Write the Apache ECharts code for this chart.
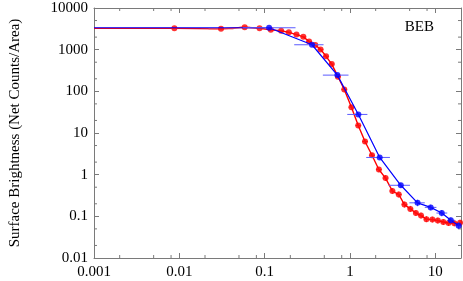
<!DOCTYPE html>
<html>
<head>
<meta charset="utf-8">
<script src="https://cdn.jsdelivr.net/npm/echarts@6/dist/echarts.min.js"></script>
<style>
html,body{margin:0;padding:0;background:#fff;}
#chart{width:463px;height:281px;}
</style>
</head>
<body>
<div id="chart"></div>
<script>
// ---- data ----
const xMin = 0.001, xMax = 20;
const yMin = 0.01, yMax = 10000;
const xMinorTicks = [0.002,0.005,0.008,0.02,0.05,0.08,0.2,0.5,0.8,2,5,8];
const yMinorTicks = [0.02,0.05,0.2,0.5,2,5,20,50,200,500,2000,5000];

const redX = [0.00875,0.0308,0.0583,0.0871,0.118,0.156,0.192,0.236,0.284,0.332,0.392,0.452,0.524,0.611,0.723,0.857,1.04,1.25,1.50,1.81,2.18,2.61,3.14,3.73,4.35,5.10,5.92,6.80,7.87,9.23,10.7,12.4,14.3,16.7,19.5];
const redY = [3250,3160,3450,3265,2990,2845,2605,2305,2030,1565,1290,1015,693,451,225,111,41.7,15.1,6.25,2.92,1.33,0.828,0.405,0.334,0.191,0.151,0.120,0.104,0.0857,0.0834,0.0789,0.0730,0.0691,0.0679,0.0706];
// multiplicative half-widths of the red error bars (x and y)
const redXErr = [1.08,1.4,1.15,1.08,1.08,1.08,1.08,1.08,1.08,1.08,1.08,1.08,1.08,1.08,1.08,1.08,1.08,1.08,1.08,1.08,1.08,1.08,1.08,1.08,1.08,1.08,1.07,1.07,1.07,1.07,1.06,1.06,1.05,1.05,1.04];
const redYErr = [1.02,1.02,1.02,1.02,1.02,1.02,1.02,1.03,1.03,1.04,1.04,1.05,1.06,1.07,1.08,1.1,1.12,1.12,1.14,1.15,1.16,1.17,1.18,1.18,1.18,1.18,1.18,1.18,1.18,1.18,1.18,1.18,1.18,1.18,1.18];

const blueX   = [0.1127,0.359,0.711,1.254,2.23,3.94,6.19,8.83,11.9,15.2,18.8];
const blueY   = [3357,1312,245,27.9,2.59,0.556,0.211,0.164,0.120,0.0802,0.0597];
const blueXLo = [0.0552,0.222,0.481,0.929,1.55,2.84,4.96,7.52,10.3,13.8,17.0];
const blueXHi = [0.230,0.490,0.961,1.60,2.94,5.05,7.52,10.3,13.8,17.0,19.95];
const blueYLo = [3300,1250,232,26.2,2.35,0.48,0.175,0.14,0.100,0.068,0.050];
const blueYHi = [3420,1380,258,29.6,2.85,0.64,0.25,0.19,0.142,0.094,0.072];

const labelText = 'BEB';
const yTitle = 'Surface Brightness (Net Counts/Area)';

// ---- build ----
const FONT = 'Liberation Serif';
const FS = 15;
const AXC = '#7a7a7a';
function fmt(v){
  const l = Math.log10(v);
  if (Math.abs(l - Math.round(l)) > 1e-6) return '';
  return String(+Number(v).toPrecision(6));
}
const redPts = redX.map((x,i)=>[x, redY[i]]);
const bluePts = blueX.map((x,i)=>[x, blueY[i]]);
const redLine = [[xMin, redY[0]]].concat(redPts);
const blueLine = [[xMin, blueY[0]]].concat(bluePts);
const redErr = redX.map((x,i)=>[x, redY[i], x/redXErr[i], x*redXErr[i], redY[i]/redYErr[i], redY[i]*redYErr[i]]);
const blueErr = blueX.map((x,i)=>[x, blueY[i], blueXLo[i], blueXHi[i], blueYLo[i], blueYHi[i]]);

function errRender(color){
  return function(params, api){
    const y = api.value(1), x = api.value(0);
    const a = api.coord([api.value(2), y]);
    const b = api.coord([api.value(3), y]);
    const c = api.coord([x, api.value(4)]);
    const d = api.coord([x, api.value(5)]);
    const st = {stroke: color, lineWidth: 1};
    return {type:'group', children:[
      {type:'line', shape:{x1:a[0], y1:a[1], x2:b[0], y2:b[1]}, style:st},
      {type:'line', shape:{x1:c[0], y1:c[1], x2:d[0], y2:d[1]}, style:st}
    ]};
  };
}
function minorX(params, api){
  const cs = params.coordSys;
  const p = api.coord([api.value(0), 1]);
  const st = {stroke: AXC, lineWidth: 1};
  return {type:'group', children:[
    {type:'line', shape:{x1:p[0], y1:cs.y+cs.height, x2:p[0], y2:cs.y+cs.height-3}, style:st},
    {type:'line', shape:{x1:p[0], y1:cs.y, x2:p[0], y2:cs.y+3}, style:st}
  ]};
}
function minorY(params, api){
  const cs = params.coordSys;
  const p = api.coord([1, api.value(1)]);
  const st = {stroke: AXC, lineWidth: 1};
  return {type:'group', children:[
    {type:'line', shape:{x1:cs.x, y1:p[1], x2:cs.x+3, y2:p[1]}, style:st},
    {type:'line', shape:{x1:cs.x+cs.width, y1:p[1], x2:cs.x+cs.width-3, y2:p[1]}, style:st}
  ]};
}

const axisCommon = {
  type: 'log', logBase: 10,
  axisLine: {show: true, onZero: false, lineStyle: {color: AXC, width: 1}},
  axisTick: {inside: true, length: 5, lineStyle: {color: AXC}},
  splitLine: {show: false},
  minorTick: {show: false}
};

const chart = echarts.init(document.getElementById('chart'), null, {renderer: 'canvas'});
chart.setOption({
  animation: false,
  backgroundColor: '#fff',
  title: {text: labelText, right: 24, top: 15,
    textStyle: {fontFamily: FONT, fontSize: FS, fontWeight: 'normal', color: '#000'}},
  grid: {left: 88, right: 2, top: 8, bottom: 23},
  xAxis: [
    Object.assign({}, axisCommon, {min: xMin, max: xMax, position: 'bottom',
      axisLabel: {formatter: fmt, fontFamily: FONT, fontSize: FS, color: '#000', margin: 7, showMaxLabel: false}}),
    Object.assign({}, axisCommon, {min: xMin, max: xMax, position: 'top', axisLabel: {show: false}})
  ],
  yAxis: [
    Object.assign({}, axisCommon, {min: yMin, max: yMax, position: 'left',
      name: yTitle, nameLocation: 'middle', nameRotate: 90, nameGap: 71,
      nameTextStyle: {fontFamily: FONT, fontSize: FS, color: '#000'},
      axisLabel: {formatter: fmt, fontFamily: FONT, fontSize: FS, color: '#000', margin: 6}}),
    Object.assign({}, axisCommon, {min: yMin, max: yMax, position: 'right', axisLabel: {show: false}})
  ],
  series: [
    {type:'custom', renderItem: minorX, data: xMinorTicks.map(v=>[v,1]), clip:false, silent:true, z:1},
    {type:'custom', renderItem: minorY, data: yMinorTicks.map(v=>[1,v]), clip:false, silent:true, z:1},
    {type:'line', data: redLine, showSymbol:false, lineStyle:{color:'#ff0000', width:1.4}, z:2},
    {type:'custom', renderItem: errRender('#ff5050'), data: redErr, encode:{x:0,y:1}, z:3},
    {type:'scatter', data: redPts, symbol:'circle', symbolSize:6, itemStyle:{color:'#ff0000'}, z:4},
    {type:'line', data: blueLine, showSymbol:false, lineStyle:{color:'#0000ff', width:1.2}, z:5},
    {type:'custom', renderItem: errRender('#5a5aff'), data: blueErr, encode:{x:0,y:1}, z:6},
    {type:'scatter', data: bluePts, symbol:'circle', symbolSize:6, itemStyle:{color:'#0000ff'}, z:7}
  ]
});
</script>
</body>
</html>
